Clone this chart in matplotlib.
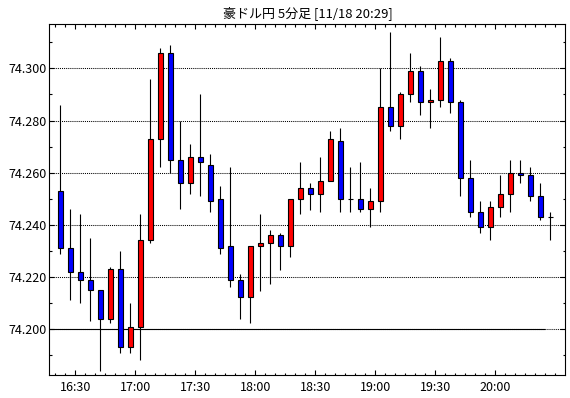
import matplotlib
matplotlib.use("Agg")
import matplotlib.pyplot as plt
from matplotlib.ticker import FixedLocator, FixedFormatter

plt.rcParams['font.family'] = ['Liberation Sans Narrow', 'Noto Sans CJK JP', 'DejaVu Sans']

title = "豪ドル円 5分足 [11/18 20:29]"

times = ["16:20", "16:25", "16:30", "16:35", "16:40", "16:45", "16:50", "16:55",
         "17:00", "17:05", "17:10", "17:15", "17:20", "17:25", "17:30", "17:35",
         "17:40", "17:45", "17:50", "17:55", "18:00", "18:05", "18:10", "18:15",
         "18:20", "18:25", "18:30", "18:35", "18:40", "18:45", "18:50", "18:55",
         "19:00", "19:05", "19:10", "19:15", "19:20", "19:25", "19:30", "19:35",
         "19:40", "19:45", "19:50", "19:55", "20:00", "20:05", "20:10", "20:15",
         "20:20", "20:25"]

opens = [74.253, 74.231, 74.222, 74.219, 74.215, 74.204, 74.223, 74.193,
         74.201, 74.234, 74.273, 74.306, 74.265, 74.256, 74.266, 74.263,
         74.250, 74.232, 74.219, 74.2125, 74.232, 74.233, 74.236, 74.232,
         74.250, 74.254, 74.252, 74.257, 74.272, 74.250, 74.250, 74.246,
         74.249, 74.285, 74.278, 74.290, 74.299, 74.287, 74.288, 74.303,
         74.287, 74.258, 74.245, 74.239, 74.247, 74.252, 74.260, 74.259,
         74.251, 74.243]
highs = [74.286, 74.246, 74.244, 74.235, 74.215, 74.224, 74.230, 74.210,
         74.244, 74.296, 74.308, 74.309, 74.280, 74.271, 74.290, 74.267,
         74.255, 74.262, 74.221, 74.232, 74.244, 74.238, 74.237, 74.250,
         74.264, 74.256, 74.266, 74.276, 74.277, 74.262, 74.264, 74.254,
         74.300, 74.314, 74.291, 74.306, 74.301, 74.292, 74.312, 74.304,
         74.288, 74.265, 74.249, 74.249, 74.259, 74.265, 74.265, 74.262,
         74.256, 74.245]
lows = [74.229, 74.211, 74.210, 74.203, 74.184, 74.2025, 74.191, 74.191,
        74.188, 74.233, 74.262, 74.260, 74.246, 74.252, 74.251, 74.245,
        74.229, 74.216, 74.204, 74.2025, 74.2145, 74.2175, 74.2225, 74.2275,
        74.244, 74.2456, 74.245, 74.257, 74.245, 74.245, 74.245, 74.239,
        74.245, 74.276, 74.273, 74.287, 74.282, 74.277, 74.285, 74.283,
        74.251, 74.243, 74.237, 74.234, 74.243, 74.245, 74.256, 74.249,
        74.242, 74.234]
closes = [74.231, 74.222, 74.219, 74.215, 74.204, 74.223, 74.193, 74.201,
          74.234, 74.273, 74.306, 74.265, 74.256, 74.266, 74.264, 74.249,
          74.231, 74.219, 74.2125, 74.232, 74.233, 74.236, 74.232, 74.250,
          74.254, 74.252, 74.257, 74.273, 74.250, 74.250, 74.246, 74.249,
          74.285, 74.278, 74.290, 74.299, 74.287, 74.288, 74.303, 74.287,
          74.258, 74.245, 74.239, 74.247, 74.252, 74.260, 74.259, 74.251,
          74.243, 74.243]

x_labels = ["16:30", "17:00", "17:30", "18:00", "18:30", "19:00", "19:30", "20:00"]
y_values = [74.200, 74.220, 74.240, 74.260, 74.280, 74.300]
base_level = 74.200


def to_min(s):
    h, m = s.split(":")
    return (int(h) - 16) * 60 + int(m)


fig = plt.figure(figsize=(5.7, 3.98), dpi=100)
ax = fig.add_axes([49.3 / 570, (398 - 375.3) / 398, 516 / 570, 351 / 398])

xs = [to_min(t) + 2.5 for t in times]
bottoms = [min(o, c) for o, c in zip(opens, closes)]
heights = [abs(c - o) for o, c in zip(opens, closes)]
colors = []
for o, c in zip(opens, closes):
    if c > o:
        colors.append('#ff0000')
    elif c < o:
        colors.append('#0000ff')
    else:
        colors.append('white')

ax.vlines(xs, lows, highs, color='black', linewidth=0.8, zorder=2)
ax.bar(xs, heights, width=2.7, bottom=bottoms, color=colors,
       edgecolor='black', linewidth=0.8, zorder=3)

xmin, xmax = 17, 275
ax.set_xlim(xmin, xmax)
ax.set_ylim(74.1823, 74.3169)

# solid base line
ax.hlines(base_level, xmin, to_min(times[-1]), color='black', linewidth=0.8, zorder=1.5)

# y ticks
ax.yaxis.set_major_locator(FixedLocator(y_values))
ax.yaxis.set_major_formatter(FixedFormatter([f"{v:.3f}" for v in y_values]))
ax.yaxis.set_minor_locator(FixedLocator([v + 0.010 for v in y_values] + [y_values[0] - 0.010]))
ax.yaxis.grid(True, which='major', linestyle=(0, (1, 1)), color='black', linewidth=0.75, zorder=1)

# x ticks
ax.xaxis.set_major_locator(FixedLocator([to_min(s) for s in x_labels]))
ax.xaxis.set_major_formatter(FixedFormatter(x_labels))
ax.xaxis.set_minor_locator(FixedLocator(list(range(20, 275, 5))))

ax.tick_params(which='both', direction='in', top=True, right=True, width=0.8,
               colors='black', labelsize=9)
ax.tick_params(which='major', length=3.6)
ax.tick_params(which='minor', length=1.8)
ax.tick_params(axis='x', pad=4)
ax.tick_params(axis='y', pad=2)
ax.set_axisbelow(True)

for sp in ax.spines.values():
    sp.set_linewidth(0.8)
    sp.set_color('black')

fig.text(307.7 / 570, (398 - 12.8) / 398, title, ha='center', va='center',
         fontsize=9.4, family=['Noto Sans CJK JP', 'DejaVu Sans'])

fig.savefig("out.png", dpi=100)
